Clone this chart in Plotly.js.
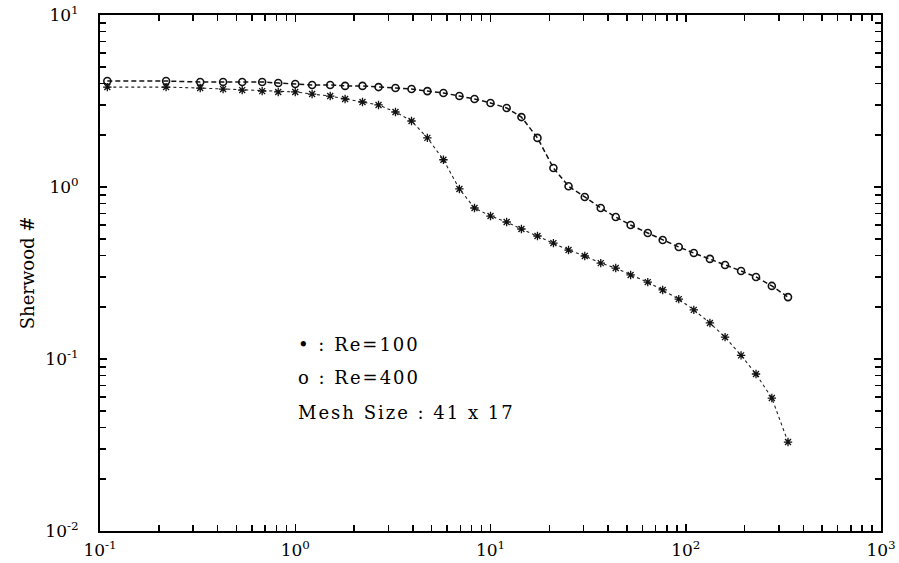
<!DOCTYPE html>
<html>
<head>
<meta charset="utf-8">
<script src="https://cdn.plot.ly/plotly-3.0.1.min.js"></script>
<style>
  html, body { margin: 0; padding: 0; background: #fff; }
  #chart { width: 899px; height: 563px; }
  #chart .annotation-text { letter-spacing: 2px; }
</style>
</head>
<body>
<div id="chart"></div>
<script>
// x values (shared by both series)
const xValues = [0.109, 0.218, 0.326, 0.427, 0.535, 0.677, 0.818, 1.0, 1.22, 1.51, 1.80, 2.21, 2.67, 3.26, 3.94, 4.75, 5.74, 6.93, 8.28, 10.0, 12.1, 14.4, 17.4, 21.0, 25.1, 30.4, 36.7, 43.8, 52.2, 63.9, 76.2, 92.1, 110, 133, 159, 192, 229, 276, 334];

// Re = 400 (open circles, dashed line)
const sh400 = [4.13, 4.13, 4.08, 4.08, 4.08, 4.08, 4.02, 3.97, 3.92, 3.92, 3.87, 3.87, 3.81, 3.76, 3.71, 3.61, 3.52, 3.38, 3.25, 3.08, 2.88, 2.55, 1.93, 1.29, 1.01, 0.875, 0.755, 0.669, 0.601, 0.540, 0.492, 0.448, 0.413, 0.382, 0.352, 0.325, 0.300, 0.266, 0.229];

// Re = 100 (asterisks, dotted line)
const sh100 = [3.81, 3.81, 3.76, 3.71, 3.66, 3.61, 3.57, 3.57, 3.47, 3.38, 3.25, 3.12, 3.00, 2.73, 2.42, 1.93, 1.44, 0.974, 0.755, 0.678, 0.626, 0.570, 0.519, 0.472, 0.430, 0.397, 0.361, 0.338, 0.308, 0.280, 0.252, 0.223, 0.193, 0.162, 0.134, 0.105, 0.0818, 0.0593, 0.0329];

// tick labels
const xTickVals = [0.1, 1, 10, 100, 1000];
const xTickText = ['10<sup>-1</sup>', '10<sup>0</sup>', '10<sup>1</sup>', '10<sup>2</sup>', '10<sup>3</sup>'];
const yTickVals = [0.01, 0.1, 1, 10];
const yTickText = ['10<sup>-2</sup>', '10<sup>-1</sup>', '10<sup>0</sup>', '10<sup>1</sup>'];

const legendLines = ['\u2022 : Re=100', 'o : Re=400', 'Mesh Size : 41 x 17'];

const serif = 'DejaVu Serif, Liberation Serif, serif';

const traces = [
  {
    x: xValues, y: sh100, type: 'scatter', mode: 'lines+markers',
    line: { color: '#222', width: 1.1, dash: 'dot' },
    marker: { symbol: 'asterisk-open', size: 7, color: '#111', line: { color: '#111', width: 1.3 } },
    showlegend: false, hoverinfo: 'skip'
  },
  {
    x: xValues, y: sh400, type: 'scatter', mode: 'lines+markers',
    line: { color: '#111', width: 1.5, dash: '5px,3px' },
    marker: { symbol: 'circle-open', size: 7, color: '#111', line: { color: '#111', width: 1.6 } },
    showlegend: false, hoverinfo: 'skip'
  }
];

const axisCommon = {
  type: 'log',
  showgrid: false,
  zeroline: false,
  showline: true,
  linecolor: '#000',
  linewidth: 2,
  mirror: 'allticks',
  ticks: 'inside',
  ticklen: 7,
  tickwidth: 1.5,
  tickcolor: '#000',
  tickfont: { family: serif, size: 17, color: '#000' },
  minor: { ticks: 'inside', ticklen: 6, tickwidth: 1.5, tickcolor: '#000', dtick: 'D1', showgrid: false }
};

const layout = {
  width: 899, height: 563,
  paper_bgcolor: '#fff', plot_bgcolor: '#fff',
  margin: { l: 100, r: 18, t: 15, b: 32 },
  showlegend: false,
  xaxis: Object.assign({}, axisCommon, {
    range: [-1, 3],
    tickvals: xTickVals, ticktext: xTickText,
    ticklabelstandoff: 3
  }),
  yaxis: Object.assign({}, axisCommon, {
    range: [-2, 1],
    tickvals: yTickVals, ticktext: yTickText,
    ticklabelstandoff: 16,
    title: { text: 'Sherwood #', font: { family: serif, size: 18, color: '#000' }, standoff: 6 }
  }),
  annotations: legendLines.map((t, i) => ({
    xref: 'paper', yref: 'paper',
    x: (296 - 100) / 781, y: (531 - (344 + i * 34)) / 516,
    xanchor: 'left', yanchor: 'middle', align: 'left',
    text: t, showarrow: false,
    font: { family: serif, size: 18, color: '#000' }
  }))
};

Plotly.newPlot('chart', traces, layout, { staticPlot: true, displayModeBar: false });
</script>
</body>
</html>
